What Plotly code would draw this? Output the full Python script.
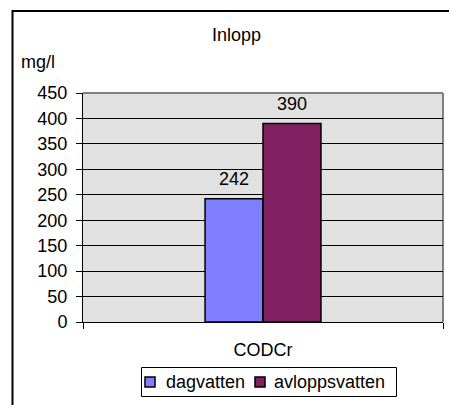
import plotly.graph_objects as go

# Data
categories = ["CODCr"]
series_names = ["dagvatten", "avloppsvatten"]
series_values = [[242], [390]]
series_colors = ["#8080ff", "#802060"]
y_ticks = [0, 50, 100, 150, 200, 250, 300, 350, 400, 450]

W, H = 449, 405
M_L, M_R, M_T, M_B = 83, 6, 93, 83
PW, PH = W - M_L - M_R, H - M_T - M_B
FONT = "Liberation Sans, Arial, sans-serif"
FS = 18
BARGAP = 0.678


def px_x(x):
    return (x - M_L) / PW


def px_y(y):
    return (H - M_B - y) / PH


fig = go.Figure()
for name, vals, col in zip(series_names, series_values, series_colors):
    fig.add_trace(go.Bar(
        x=categories, y=vals, name=name,
        marker=dict(color=col, line=dict(color="black", width=1.5)),
    ))

# value labels above each bar, centred on the bar within its group
n = len(series_names)
bar_w = (1 - BARGAP) / n
annotations = []
for i, vals in enumerate(series_values):
    for j, v in enumerate(vals):
        annotations.append(dict(
            x=j - (1 - BARGAP) / 2 + bar_w * (i + 0.5), y=v,
            xref="x", yref="y", text=str(v), showarrow=False,
            yanchor="middle", yshift=20,
            font=dict(family=FONT, size=FS, color="black"),
        ))

annotations.append(dict(
    x=px_x(236.5), y=px_y(35), xref="paper", yref="paper",
    text="Inlopp", showarrow=False, xanchor="center", yanchor="middle",
    font=dict(family=FONT, size=FS, color="black"),
))
annotations.append(dict(
    x=px_x(18.5), y=px_y(62), xref="paper", yref="paper",
    text="mg/l", showarrow=False, xanchor="left", yanchor="middle",
    font=dict(family=FONT, size=FS, color="black"),
))

shapes = [
    # chart frame
    dict(type="rect", xref="paper", yref="paper",
         x0=px_x(12.5), y0=px_y(H + 40), x1=px_x(W + 40), y1=px_y(11),
         line=dict(color="black", width=2), fillcolor="rgba(0,0,0,0)",
         layer="above"),
    # plot area border, top and right edges
    dict(type="line", xref="paper", yref="paper", x0=0, x1=1, y0=1, y1=1,
         line=dict(color="#808080", width=2), layer="below"),
    dict(type="line", xref="paper", yref="paper", x0=1, x1=1, y0=0, y1=1,
         line=dict(color="#808080", width=2), layer="below"),
    # legend box
    dict(type="rect", xref="paper", yref="paper",
         x0=px_x(141.5), x1=px_x(396.5), y0=px_y(396.5), y1=px_y(367.5),
         line=dict(color="black", width=1), fillcolor="white",
         layer="above"),
]

# legend entries: swatch + label
legend_items = [(145, 166), (255, 274)]
for (sx, tx), name, col in zip(legend_items, series_names, series_colors):
    shapes.append(dict(
        type="rect", xref="paper", yref="paper",
        x0=px_x(sx), x1=px_x(sx + 10), y0=px_y(387), y1=px_y(377),
        line=dict(color="black", width=1.5), fillcolor=col, layer="above",
    ))
    annotations.append(dict(
        x=px_x(tx - 2), y=px_y(382), xref="paper", yref="paper",
        text=name, showarrow=False, xanchor="left", yanchor="middle",
        font=dict(family=FONT, size=FS, color="black"),
    ))

fig.update_layout(
    width=W, height=H,
    margin=dict(l=M_L, r=M_R, t=M_T, b=M_B, pad=0, autoexpand=False),
    paper_bgcolor="white", plot_bgcolor="#e1e1e1",
    barmode="group", bargap=BARGAP, bargroupgap=0,
    font=dict(family=FONT, size=FS, color="black"),
    showlegend=False,
    annotations=annotations,
    shapes=shapes,
)

fig.update_xaxes(
    type="category", showline=True, linecolor="black", linewidth=1,
    ticks="outside", tickson="boundaries", ticklen=6, tickcolor="black",
    tickwidth=1, showgrid=False, ticklabelstandoff=11, automargin=False,
    tickfont=dict(family=FONT, size=FS, color="black"),
)
fig.update_yaxes(
    range=[0, 450], tickvals=y_ticks, showline=True, linecolor="black",
    linewidth=1, ticks="outside", ticklen=6, tickcolor="black", tickwidth=1,
    showgrid=True, gridcolor="black", gridwidth=1, zeroline=False,
    ticklabelstandoff=5, automargin=False,
    tickfont=dict(family=FONT, size=FS, color="black"),
)

fig.write_html("out.html")
